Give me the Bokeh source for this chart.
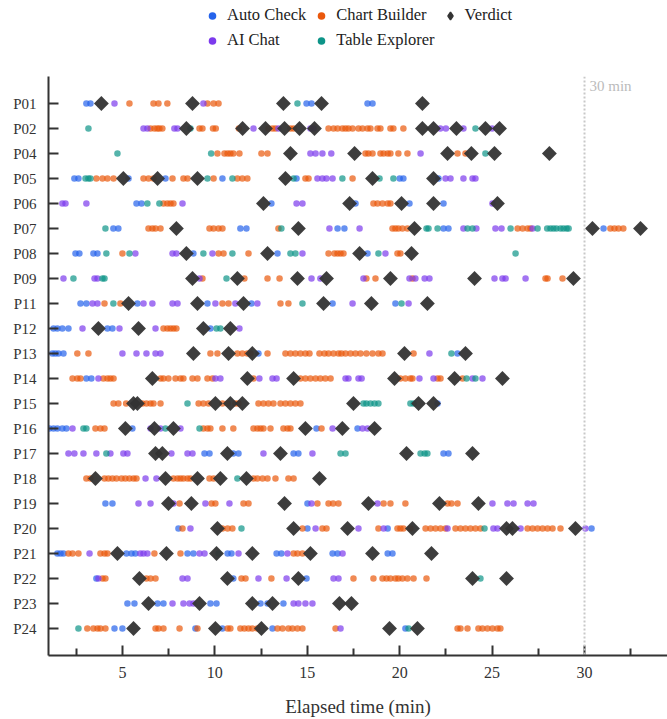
import numpy as np
from bokeh.plotting import figure
from bokeh.layouts import column
from bokeh.models import Range1d, FixedTicker, Span, Legend, LegendItem, Label
from bokeh.embed import file_html
from bokeh.resources import INLINE

FONT = "Liberation Serif"

participants = ["P01", "P02", "P04", "P05", "P06", "P07", "P08", "P09", "P11", "P12", "P13",
                "P14", "P15", "P16", "P17", "P18", "P19", "P20", "P21", "P22", "P23", "P24"]

auto_check = {
    "P01": [3.05, 3.27, 14.96, 15.23, 18.26, 18.53],
    "P02": [],
    "P04": [],
    "P05": [2.40, 2.62, 5.33, 7.33, 10.41, 14.42, 20.0, 20.2, 22.1],
    "P06": [5.76, 6.03, 13.06, 17.61, 20.53, 22.37],
    "P07": [4.51, 4.78, 11.38, 11.71, 16.64, 17.01, 22.37, 22.64, 31.03],
    "P08": [2.46, 2.67, 3.43, 3.65, 8.84, 13.39, 18.26],
    "P09": [],
    "P11": [2.73, 3.05, 5.81, 9.6, 11.98, 16.37, 19.77],
    "P12": [1.27, 1.48, 1.75, 2.08, 4.19, 4.46, 9.76],
    "P13": [1.21, 1.37, 1.54, 1.81, 12.36, 23.13],
    "P14": [3.05, 3.32],
    "P15": [22.05],
    "P16": [1.05, 1.27, 1.48, 1.75, 1.97, 5.54, 15.5, 17.72],
    "P17": [9.44, 9.71, 11.0, 11.28, 14.26, 14.52, 22.37, 22.64],
    "P18": [],
    "P19": [4.08, 4.46, 15.01],
    "P20": [8.03, 15.01, 19.35, 30.38],
    "P21": [1.48, 1.65, 1.81, 5.22, 5.49, 5.7, 8.52, 8.84, 10.69, 10.9, 13.34, 13.6,
            16.37, 16.64, 19.35, 19.61],
    "P22": [3.59, 11.0, 14.96],
    "P23": [5.27, 5.65, 6.9, 7.22, 9.76, 10.09, 12.47, 12.85, 13.71],
    "P24": [4.57, 5.0, 8.95, 10.41, 13.12, 20.31],
}

chart_builder = {
    "P01": [5.38, 6.68, 6.95, 7.43, 9.6, 9.93, 10.2],
    "P02": [6.52, 6.73, 6.89, 7.0, 7.16, 9.17, 9.33, 9.9, 10.05, 11.3, 12.9, 13.12, 13.28,
            14.09, 14.26, 16.15, 16.42, 16.64, 16.9, 17.07, 17.23, 17.45, 17.77, 17.99,
            18.26, 18.42, 18.8, 18.96, 19.5, 19.66, 20.2],
    "P04": [10.14, 10.52, 10.69, 10.84, 11.0, 11.33, 12.52, 12.85, 18.15, 18.31, 18.53,
            18.96, 19.13, 19.35, 19.5, 19.93, 20.42, 23.13, 23.56],
    "P05": [3.59, 3.92, 4.19, 4.52, 6.14, 6.41, 6.68, 7.71, 8.3, 8.52, 9.93, 11.22, 11.49,
            11.76, 14.9, 15.07, 17.45],
    "P06": [7.22, 7.43, 7.6, 7.76, 18.58, 18.8, 19.07, 19.35, 19.5],
    "P07": [6.41, 6.62, 6.79, 7.06, 9.71, 9.93, 10.2, 10.41, 13.44, 19.61, 19.77, 19.93,
            20.15, 20.42, 26.38, 26.65, 26.92, 27.08, 31.4, 31.62, 31.84, 32.1],
    "P08": [5.0, 10.2, 10.47, 11.82, 16.15, 16.47, 16.64, 16.8, 16.96, 19.88, 20.04],
    "P09": [9.33, 11.6, 12.85, 13.5, 18.2, 18.69, 20.69, 27.89, 28.0, 28.81],
    "P11": [4.03, 4.89, 10.41, 10.74, 13.55, 13.98],
    "P12": [7.22, 7.43, 7.6, 7.76, 7.92],
    "P13": [2.56, 3.16, 9.76, 10.14, 11.22, 11.49, 11.76, 11.93, 12.85, 13.82, 14.09, 14.36,
            14.63, 14.9, 15.12, 15.66, 15.93, 16.15, 16.42, 16.69, 16.85, 17.07, 17.34,
            17.61, 17.88, 18.2, 18.53, 18.85, 19.07, 20.75],
    "P14": [2.3, 2.56, 2.73, 3.97, 4.19, 4.35, 4.52, 7.06, 7.22, 7.49, 7.87, 8.14, 8.3,
            8.79, 9.06, 9.6, 9.87, 12.09, 14.63, 14.9, 15.17, 15.45, 15.71, 15.98, 16.26,
            20.04, 20.31, 20.58, 20.69, 22.05, 22.21, 23.4],
    "P15": [4.52, 4.78, 5.2, 6.08, 6.3, 6.52, 6.68, 7.06, 9.12, 9.38, 9.66, 10.41, 10.69,
            11.11, 11.28, 12.36, 12.63, 12.9, 13.17, 13.55, 13.82, 14.09, 14.36, 14.63],
    "P16": [3.54, 3.81, 4.03, 9.38, 9.6, 9.76, 10.41, 11.0, 12.09, 12.3, 12.47, 12.63,
            13.01, 13.71, 13.93, 14.09, 15.77],
    "P17": [],
    "P18": [3.05, 3.27, 4.03, 4.24, 4.46, 4.68, 4.95, 5.16, 5.38, 5.6, 5.76, 7.76, 7.98,
            8.14, 8.3, 8.52, 8.68, 9.71, 9.93, 12.09, 12.3, 12.58, 12.85, 13.28, 13.98,
            14.26],
    "P19": [8.09, 9.82, 10.03, 11.55, 11.82, 15.55, 16.15, 16.4, 16.69, 19.13, 19.5,
            20.31, 22.59, 22.8, 23.13],
    "P20": [8.25, 10.41, 10.69, 10.95, 14.74, 15.82, 16.04, 18.85, 19.88, 20.04, 20.2,
            20.58, 21.4, 21.67, 21.94, 22.21, 22.48, 23.02, 23.29, 23.56, 23.83, 24.1,
            24.37, 26.92, 27.19, 27.46, 27.73, 28.0, 28.27, 28.7],
    "P21": [2.08, 2.3, 2.62, 3.81, 4.03, 4.19, 6.73, 8.14, 14.26, 14.47, 14.74],
    "P22": [3.92, 4.08, 6.3, 6.52, 6.79, 11.44, 11.66, 13.06, 17.5, 18.58, 19.07, 19.29,
            19.5, 19.77, 19.93, 20.15, 20.42, 20.75, 21.45],
    "P23": [],
    "P24": [3.1, 3.43, 3.65, 3.81, 4.08, 6.79, 6.95, 7.22, 8.09, 9.06, 10.69, 10.84, 11.38,
            11.6, 11.82, 12.03, 12.3, 13.39, 13.66, 13.98, 14.2, 14.47, 14.74, 16.53,
            23.13, 23.29, 23.67, 24.26, 24.48, 24.75, 25.02, 25.29, 25.45],
}

ai_chat = {
    "P01": [4.57, 9.38],
    "P02": [6.14, 6.35, 7.81, 7.98, 12.09, 13.44, 15.17, 15.34, 22.2, 22.5, 23.45, 25.0],
    "P04": [15.17, 15.45, 15.82, 16.3, 21.13],
    "P05": [15.55, 15.82, 16.04, 16.37, 22.48, 22.75, 23.45, 23.94, 24.1],
    "P06": [1.75, 1.92, 3.05, 8.25, 14.42, 14.74, 25.02],
    "P07": [16.2, 17.83, 23.45, 24.15, 25.18, 25.51, 27.19],
    "P08": [5.7, 7.71, 7.92, 9.87, 14.74, 19.23],
    "P09": [1.81, 3.49, 3.65, 9.17, 15.23, 15.71, 18.04, 20.53, 20.85, 21.35, 21.61,
            25.13, 25.56, 25.73, 26.81],
    "P11": [3.38, 3.65, 6.14, 6.62, 7.71, 7.98, 10.03, 11.11, 12.3, 17.45, 20.48],
    "P12": [2.84, 4.84, 6.79, 11.33],
    "P13": [5.0, 5.76, 6.3, 6.79, 7.06, 21.61],
    "P14": [3.7, 10.03, 10.3, 12.41, 13.12, 13.34, 17.07, 17.23, 17.77, 17.94, 21.07,
            21.83, 23.94, 24.48],
    "P15": [],
    "P16": [2.3, 6.52, 7.06, 8.14, 16.37, 17.99, 18.26],
    "P17": [2.08, 2.4, 2.89, 3.59, 4.35, 5.05, 5.27, 7.65, 8.52, 8.79, 12.63, 15.28],
    "P18": [6.25, 6.84],
    "P19": [5.87, 6.52, 7.76, 9.49, 10.79, 15.23, 18.8, 25.02, 25.83, 26.16, 26.92, 27.24],
    "P20": [8.68, 15.45, 17.77, 19.13, 22.59, 25.07, 25.29, 26.54, 30.05],
    "P21": [3.22, 5.97, 6.14, 6.35, 9.17, 9.44, 11.28, 13.93, 16.91],
    "P22": [3.7, 8.25, 8.52, 12.36, 13.88, 16.42, 16.69],
    "P23": [7.71, 8.3, 8.63, 8.84, 14.26, 14.52, 14.9, 15.28],
    "P24": [16.8],
}

table_explorer = {
    "P01": [14.47],
    "P02": [3.16, 8.68, 24.1],
    "P04": [4.73, 9.8, 24.64],
    "P05": [3.0, 3.16, 3.27, 9.6, 10.95, 14.26, 16.9, 18.91, 19.66],
    "P06": [6.35, 7.0],
    "P07": [4.08, 13.6, 21.45, 21.56, 22.05, 23.67, 23.94, 26.0, 27.46, 27.98, 28.16,
            28.32, 28.48, 28.7, 28.86, 29.03, 29.14],
    "P08": [4.13, 5.38, 9.38, 10.95, 14.09, 14.36, 18.85, 26.27],
    "P09": [2.35, 3.92, 4.03, 10.63],
    "P11": [4.51, 14.74, 20.1],
    "P12": [10.09, 10.3],
    "P13": [22.8],
    "P14": [23.62, 24.1],
    "P15": [8.52, 18.04, 18.2, 18.42, 18.64, 18.85, 20.58, 20.75],
    "P16": [2.89, 3.05, 7.33, 9.17],
    "P17": [4.13, 16.8, 17.07, 21.13, 21.35, 21.5],
    "P18": [11.22],
    "P19": [],
    "P20": [11.44, 24.59],
    "P21": [10.2],
    "P22": [24.37],
    "P23": [],
    "P24": [2.62, 20.48],
}

verdicts = {
    "P01": [3.86, 8.79, 13.71, 15.77, 21.23],
    "P02": [8.46, 11.5, 12.74, 13.77, 14.58, 15.39, 21.23, 21.83, 23.07, 24.64, 25.4],
    "P04": [14.09, 17.56, 22.59, 23.88, 25.13, 28.1],
    "P05": [5.05, 6.9, 9.06, 13.82, 18.53, 21.83],
    "P06": [12.63, 17.29, 20.1, 21.83, 25.29],
    "P07": [7.92, 14.52, 20.8, 30.43, 33.03],
    "P08": [8.46, 12.85, 17.83, 20.64],
    "P09": [8.79, 11.22, 14.47, 16.04, 19.5, 24.05, 29.4],
    "P11": [5.33, 9.06, 11.55, 15.88, 18.47, 21.5],
    "P12": [3.7, 5.87, 9.38, 10.84],
    "P13": [8.84, 10.74, 12.03, 20.26, 23.56],
    "P14": [6.62, 11.76, 14.26, 19.72, 22.97, 25.56],
    "P15": [5.6, 5.81, 10.03, 10.84, 11.49, 17.5, 21.02, 21.83],
    "P16": [5.16, 6.73, 7.76, 14.9, 16.9, 18.64],
    "P17": [6.79, 7.16, 10.68, 13.55, 20.37, 23.94],
    "P18": [3.54, 7.33, 9.06, 10.3, 11.71, 15.66],
    "P19": [7.49, 8.73, 13.77, 18.31, 22.15, 24.26],
    "P20": [10.14, 14.26, 17.18, 20.69, 25.78, 26.1, 29.51],
    "P21": [4.73, 7.38, 10.09, 12.03, 15.17, 18.53, 21.72],
    "P22": [5.92, 10.68, 14.52, 23.94, 25.78],
    "P23": [6.41, 9.17, 12.03, 13.12, 16.74, 17.39],
    "P24": [5.6, 10.03, 12.52, 19.45, 20.96],
}

x_ticks = [5, 10, 15, 20, 25, 30]
x_minor = [2.5, 7.5, 12.5, 17.5, 22.5, 27.5, 32.5]
time_limit = 30

COLORS = {"Auto Check": "#2563EB", "Chart Builder": "#EA580C",
          "AI Chat": "#7C3AED", "Table Explorer": "#0D9488"}
VERDICT_COLOR = "#333333"


def flatten(d):
    xs, ys = [], []
    for i, pid in enumerate(participants):
        for t in d[pid]:
            xs.append(t)
            ys.append(i)
    return xs, ys


n = len(participants)

# ---------------- legend strip ----------------
LEG_H = 68
leg = figure(width=667, height=LEG_H, output_backend="svg", toolbar_location=None,
             x_range=Range1d(0, 1), y_range=Range1d(0, 1),
             x_axis_location=None, y_axis_location=None, min_border=0)
leg.outline_line_color = None
leg.xgrid.visible = False
leg.ygrid.visible = False

legend_r = {}
for name in ["Auto Check", "Chart Builder", "AI Chat", "Table Explorer"]:
    legend_r[name] = leg.scatter([np.nan], [np.nan], size=7, fill_color=COLORS[name],
                                 line_color=None)
legend_r["Verdict"] = leg.scatter([np.nan], [np.nan], marker="diamond", size=8,
                                  fill_color=VERDICT_COLOR, line_color=VERDICT_COLOR,
                                  line_width=1.5)

order = ["Auto Check", "Chart Builder", "Verdict", "AI Chat", "Table Explorer"]
legend = Legend(items=[LegendItem(label=k, renderers=[legend_r[k]]) for k in order],
                orientation="horizontal", location=(154, LEG_H - 50),
                border_line_color=None, background_fill_alpha=0,
                label_text_font=FONT, label_text_font_size="16.5px",
                label_text_color="#222222",
                padding=0, margin=0, spacing=5, glyph_width=20, glyph_height=19,
                label_standoff=5)
legend.ncols = 3
leg.add_layout(legend, "center")

# ---------------- main plot ----------------
p = figure(width=667, height=719 - LEG_H, output_backend="svg", toolbar_location=None,
           x_range=Range1d(1.0, 34.49), y_range=Range1d(n - 1 + 1.08, -1.08),
           min_border_left=48, min_border_right=0, min_border_top=76 - LEG_H,
           min_border_bottom=63)
p.outline_line_color = None
p.xgrid.visible = False
p.ygrid.visible = False

span = Span(location=time_limit, dimension="height", line_color="#c8c8c8",
            line_dash="2 2", line_width=2)
p.add_layout(span)
p.add_layout(Label(x=time_limit, y=-1.08, x_offset=5, y_offset=-1, text="30 min",
                   text_baseline="top", text_align="left", text_color="#bbbbbb",
                   text_font=FONT, text_font_size="15px"))

tool_data = [("Auto Check", auto_check), ("Chart Builder", chart_builder),
             ("AI Chat", ai_chat), ("Table Explorer", table_explorer)]
for name, d in tool_data:
    xs, ys = flatten(d)
    p.scatter(xs, ys, size=6.5, fill_color=COLORS[name], fill_alpha=0.7, line_color=None)

vx, vy = flatten(verdicts)
p.scatter(vx, vy, marker="square", angle=np.pi / 4, size=10.5,
          fill_color=VERDICT_COLOR, fill_alpha=0.95, line_color=None)

# axes
p.xaxis.ticker = FixedTicker(ticks=x_ticks, minor_ticks=x_minor)
p.yaxis.ticker = FixedTicker(ticks=list(range(n)), minor_ticks=[])
p.yaxis.major_label_overrides = {i: pid for i, pid in enumerate(participants)}
for ax in (p.xaxis, p.yaxis):
    ax.axis_line_color = "#333333"
    ax.axis_line_width = 2
    ax.major_tick_line_color = "#333333"
    ax.major_tick_line_width = 2
    ax.minor_tick_line_color = "#333333"
    ax.minor_tick_line_width = 2
    ax.major_tick_in = 10
    ax.major_tick_out = 0
    ax.minor_tick_in = 7
    ax.minor_tick_out = 0
    ax.major_label_text_font = FONT
    ax.major_label_text_color = "#333333"
p.xaxis.major_label_standoff = 11
p.yaxis.major_label_standoff = 12
p.xaxis.major_label_text_font_size = "16px"
p.yaxis.major_label_text_font_size = "15px"
p.xaxis.axis_label = "Elapsed time (min)"
p.xaxis.axis_label_text_font = FONT
p.xaxis.axis_label_text_font_size = "19px"
p.xaxis.axis_label_text_font_style = "normal"
p.xaxis.axis_label_text_color = "#333333"
p.xaxis.axis_label_standoff = 15

layout = column(leg, p, spacing=0)
open("out.html", "w").write(file_html(layout, INLINE))
